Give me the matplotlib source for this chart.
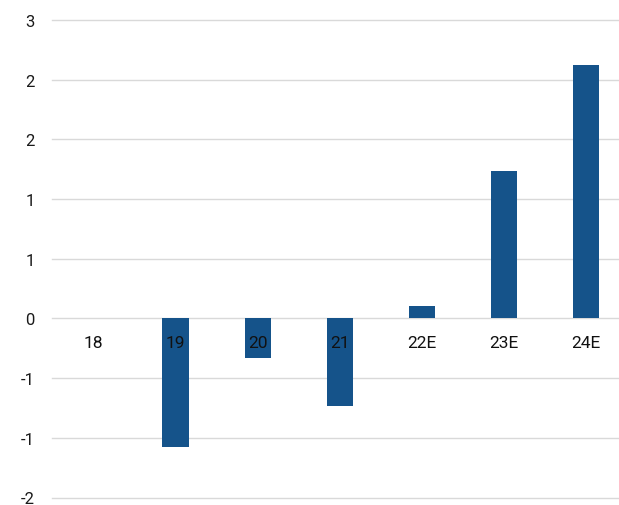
import matplotlib
matplotlib.use("Agg")
import matplotlib.pyplot as plt
import numpy as np
from matplotlib.ticker import FuncFormatter

categories = ["18", "19", "20", "21", "22E", "23E", "24E"]
values = [0.0, -1.29, -0.40, -0.885, 0.13, 1.48, 2.55]
y_ticks = [-1.8, -1.2, -0.6, 0.0, 0.6, 1.2, 1.8, 2.4, 3.0]

plt.rcParams['font.family'] = ['Roboto', 'DejaVu Sans']

W, H = 619, 506
fig = plt.figure(figsize=(W / 100, H / 100), dpi=100)
left = 52.5 / W
width = 574.4 / W
bottom = (H - 498.5) / H
top = (H - 21) / H
ax = fig.add_axes([left, bottom, width, top - bottom])

x = np.arange(len(categories))
ax.bar(x, values, width=0.32, color="#15538A", linewidth=0, zorder=3)

ax.set_xlim(-0.5, len(categories) - 0.5)
ax.set_ylim(-1.8, 3.0)
ax.set_yticks(y_ticks)
ax.yaxis.set_major_formatter(FuncFormatter(lambda v, p: "{:.0f}".format(round(v + 1e-9)) if v >= 0 else "-{:.0f}".format(round(-v + 1e-9))))
ax.grid(axis="y", color="#d9d9d9", linewidth=1.0, zorder=0)
for gl in ax.yaxis.get_gridlines():
    gl.set_clip_on(False)
ax.set_axisbelow(True)
ax.set_xticks([])
ax.tick_params(axis="y", length=0, pad=13, labelsize=12, labelcolor="#1a1a1a")
for s in ax.spines.values():
    s.set_visible(False)

for i, c in enumerate(categories):
    ax.annotate(c, xy=(i, 0), xytext=(0, -17.3), textcoords="offset points",
                ha="center", va="center", fontsize=12.5, color="#111111", zorder=5)

fig.savefig("out.png", dpi=100)
